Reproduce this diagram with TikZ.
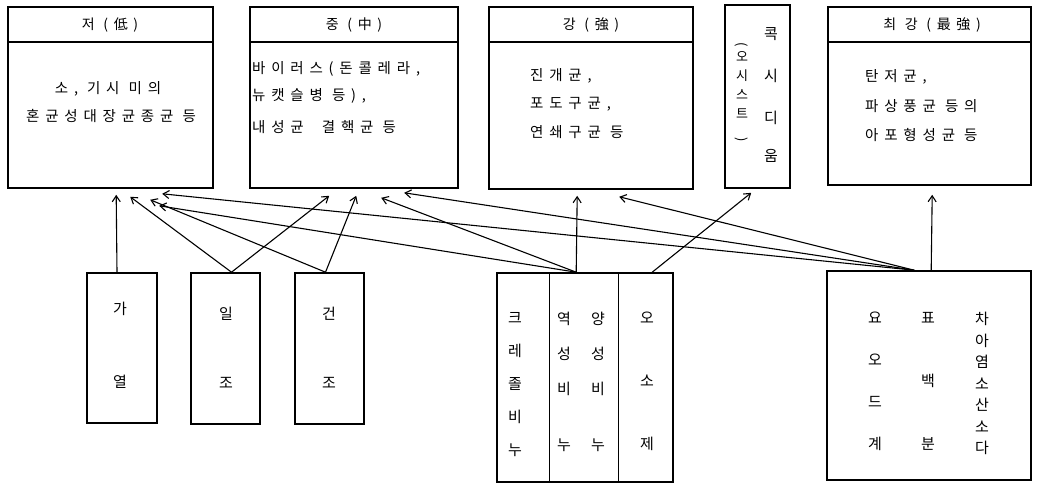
\documentclass[tikz,border=0pt]{standalone}
\usepackage{fontspec}
\newfontfamily\kr[LetterSpace=40]{Noto Sans CJK KR}
\newfontfamily\krv{Noto Sans CJK KR}
\usetikzlibrary{arrows.meta,calc}
\begin{document}
\begin{tikzpicture}[x=1pt,y=-1pt,
  box/.style={draw, line width=1.6pt, inner sep=0pt},
  hdr/.style={font=\kr\fontsize{14}{16}\selectfont, inner sep=0pt},
  txt/.style={font=\kr\fontsize{14.5}{16}\selectfont, inner sep=0pt, anchor=west},
  ctxt/.style={font=\kr\fontsize{14.5}{16}\selectfont, inner sep=0pt},
  col/.style={font=\krv\fontsize{15}{17}\selectfont, inner sep=0pt, align=center, anchor=north},
  arr/.style={line width=1.1pt, -{Straight Barb[length=6pt,width=8pt]}},
]
\useasboundingbox (0,0) rectangle (1038,484);

% top boxes
\node[box, minimum width=205pt, minimum height=181pt] (low) at (110.5,97.5) {};
\node[box, minimum width=208pt, minimum height=181pt] (mid) at (354,97.5) {};
\node[box, minimum width=204pt, minimum height=182pt] (str) at (591,98) {};
\node[box, minimum width=65pt, minimum height=183pt] (cox) at (757.5,96.5) {};
\node[box, minimum width=203pt, minimum height=178pt] (max) at (929.5,96) {};
\foreach \b in {low,mid,str,max}
  \draw[line width=1.6pt] ($(\b.north west)+(0,36)$) -- ($(\b.north east)+(0,36)$);

\node[hdr] (lowh) at (110,25) {저 (低)};
\node[hdr] (midh) at (354,25) {중 (中)};
\node[hdr] (strh) at (591,25) {강 (強)};
\node[hdr] (maxh) at (932,25) {최 강 (最強)};

\node[ctxt] (low1) at (108,89) {소, 기시 미의};
\node[ctxt] (low2) at (111,116) {혼균성대장균종균 등};

\node[txt] (mid1) at (252,69) {바이러스(돈콜레라,};
\node[txt] (mid2) at (252,96) {뉴캣슬병 등),};
\node[txt] (mid3) at (252,127) {내성균 \ 결핵균 등};

\node[txt] (str1) at (530,76) {진개균,};
\node[txt] (str2) at (530,104) {포도구균,};
\node[txt] (str3) at (530,132) {연쇄구균 등};

\node[txt] (max1) at (865,77) {탄저균,};
\node[txt] (max2) at (865,106) {파상풍균 등의};
\node[txt] (max3) at (865,135) {아포형성균 등};

\node[col] (coxa) at (771,27) {콕\\[25pt]시\\[25pt]디\\[21pt]움};
\node[col, font=\krv\fontsize{13}{19}\selectfont] (coxb) at (742,42) {\rotatebox{-90}{(}\\오\\시\\스\\트\\\rotatebox{-90}{)}};

% bottom boxes
\node[box, minimum width=70pt, minimum height=150pt] (A) at (122,348) {};
\node[box, minimum width=69pt, minimum height=151pt] (B) at (225.5,348.5) {};
\node[box, minimum width=69pt, minimum height=151pt] (C) at (329.5,348.5) {};
\node[box, minimum width=176pt, minimum height=209pt] (M) at (585,377.5) {};
\node[box, minimum width=204pt, minimum height=209pt] (R) at (929,375.5) {};
\draw[line width=1.4pt] ($(M.north west)+(53,0)$) -- ($(M.south west)+(53,0)$);
\draw[line width=1.4pt] ($(M.north west)+(122,0)$) -- ($(M.south west)+(122,0)$);

\node[col] (Atx) at (120,302) {가\\[56pt]열};
\node[col] (Btx) at (226,307) {일\\[52pt]조};
\node[col] (Ctx) at (329,307) {건\\[52pt]조};

\node[col] (M1) at (515,312) {크\\[16pt]레\\[16pt]졸\\[16pt]비\\[16pt]누};
\node[col] (M2) at (564,312) {역\\[18pt]성\\[18pt]비\\[39pt]누};
\node[col] (M3) at (598,312) {양\\[18pt]성\\[18pt]비\\[39pt]누};
\node[col] (M4) at (647,312) {오\\[46pt]소\\[46pt]제};

\node[col] (R1) at (875,312) {요\\[25pt]오\\[25pt]드\\[25pt]계};
\node[col] (R2) at (928,312) {표\\[46pt]백\\[46pt]분};
\node[col] (R3) at (982,312) {차\\[4.5pt]아\\[4.5pt]염\\[4.5pt]소\\[4.5pt]산\\[4.5pt]소\\[4.5pt]다};

% connectors
\draw[arr] ($(A.north)+(-5,0)$) -- ($(low.south west)+(109,6)$);
\draw[arr] ($(B.north)+(6,0)$) -- ($(low.south west)+(123,8)$);
\draw[arr] ($(B.north)+(6,0)$) -- ($(mid.south west)+(80,7)$);
\draw[arr] ($(C.north)+(-4,0)$) -- ($(low.south west)+(143,11)$);
\draw[arr] ($(C.north)+(-4,0)$) -- ($(mid.south west)+(107,7)$);
\draw[arr] ($(M.north west)+(80,0)$) -- ($(low.south west)+(152,17)$);
\draw[arr] ($(M.north west)+(80,0)$) -- ($(mid.south west)+(132,9)$);
\draw[arr] ($(M.north west)+(80,0)$) -- ($(str.south west)+(89,6)$);
\draw[arr] ($(M.north west)+(156,0)$) -- ($(cox.south west)+(27,4)$);
\draw[arr] ($(R.north west)+(88,0)$) -- ($(low.south west)+(155,5)$);
\draw[arr] ($(R.north west)+(88,0)$) -- ($(mid.south west)+(155,4)$);
\draw[arr] ($(R.north west)+(88,0)$) -- ($(str.south west)+(131,7)$);
\draw[arr] ($(R.north west)+(105,0)$) -- ($(max.south west)+(105,9)$);
\end{tikzpicture}
\end{document}
